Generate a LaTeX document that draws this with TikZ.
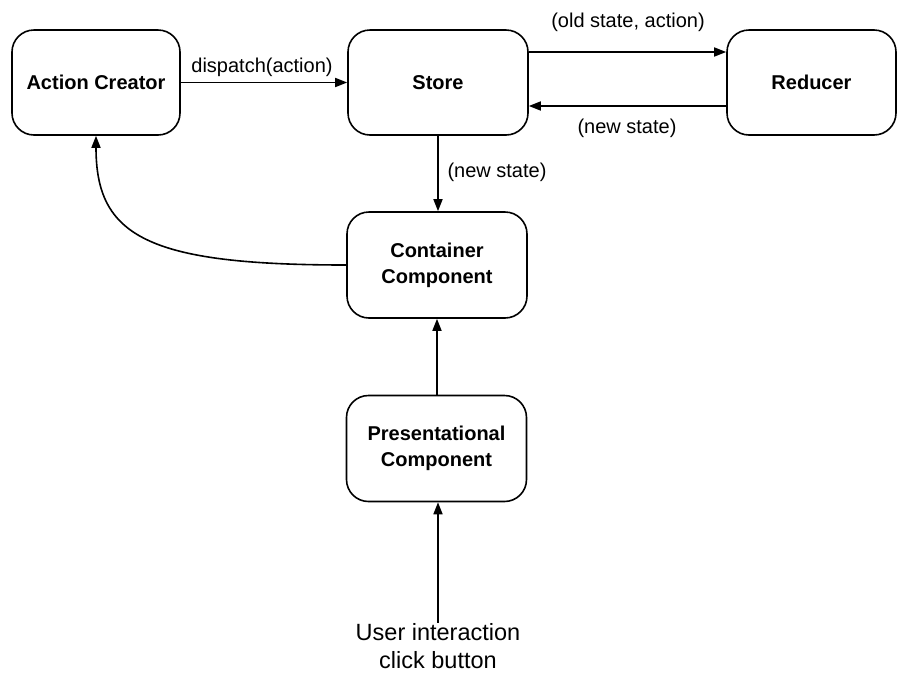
\documentclass[tikz,border=0pt]{standalone}
\usepackage{fontspec}
\setmainfont{Liberation Sans}
\usetikzlibrary{arrows.meta}
\begin{document}
\begin{tikzpicture}[x=1pt,y=-1pt,
  box/.style={draw, line width=1.6pt, rounded corners=22pt, align=center,
    font=\fontsize{20}{26}\selectfont\bfseries, inner sep=0pt},
  lbl/.style={font=\fontsize{20}{24}\selectfont, inner sep=0pt},
  arr/.style={line width=1.6pt, -{Triangle[length=12pt,width=9pt]}}]
\useasboundingbox (0,0) rectangle (898,673);
\node[box, minimum width=168pt, minimum height=105pt] (ac) at (96,82.5) {Action Creator};
\node[box, minimum width=180pt, minimum height=105pt] (store) at (438,82.5) {Store};
\node[box, minimum width=169pt, minimum height=105pt] (red) at (811.5,82.5) {Reducer};
\node[box, minimum width=180pt, minimum height=106pt] (cont) at (437,265) {Container\\Component};
\node[box, minimum width=180pt, minimum height=106pt] (pres) at (436.5,448.5) {Presentational\\Component};
\node[align=center, inner sep=1pt, font=\fontsize{23.5}{28}\selectfont] (user) at (438,646.5) {User interaction\\click button};

\draw[arr] (ac.east) -- (store.west);
\draw[arr] ([yshift=30.5pt]store.east) -- ([yshift=30.5pt]red.west);
\draw[arr] ([yshift=-23.5pt]red.west) -- ([yshift=-23.5pt]store.east);
\draw[arr] (store.south) -- (store.south |- cont.north);
\draw[arr] (pres.north -| cont.south) -- (cont.south);
\draw[arr] (user.north) -- (user.north |- pres.south);
\draw[arr] (cont.west) .. controls +(-200,0) and +(0,100) .. (ac.south);

\node[lbl] (l1) at (262,67) {dispatch(action)};
\node[lbl] (l2) at (628,22.5) {(old state, action)};
\node[lbl] (l3) at (627,128.5) {(new state)};
\node[lbl] (l4) at (497,172) {(new state)};
\end{tikzpicture}
\end{document}
